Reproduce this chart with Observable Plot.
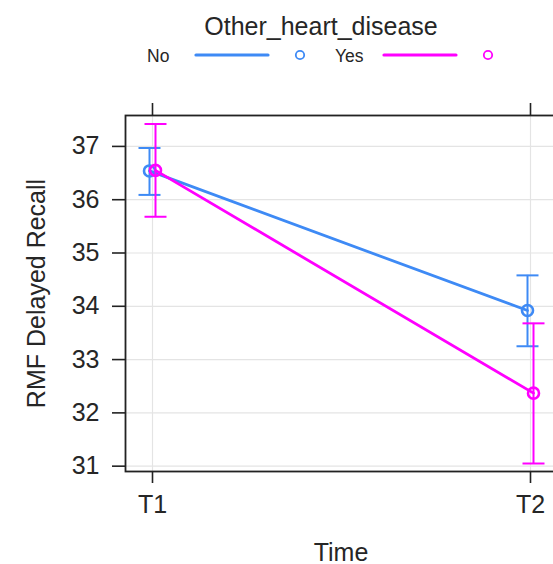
<!DOCTYPE html>
<html>
<head>
<meta charset="utf-8">
<script src="https://cdn.jsdelivr.net/npm/d3@7"></script>
<script src="https://cdn.jsdelivr.net/npm/@observablehq/plot@0.6"></script>
<style>
  html, body { margin: 0; padding: 0; background: white; }
  body { width: 553px; height: 564px; overflow: hidden; font-family: "Liberation Sans", Arial, sans-serif; }
  #header { display: block; }
</style>
</head>
<body>
<div id="chart"></div>
<script>
// ---- data ----
const timepoints = ["T1", "T2"];
const groups = ["No", "Yes"];
const colors = ["#3e8af5", "#ff00ff"];
const fitNo = [36.54, 33.92];
const lowerNo = [36.09, 33.25];
const upperNo = [36.97, 34.58];
const fitYes = [36.55, 32.37];
const lowerYes = [35.68, 31.05];
const upperYes = [37.42, 33.68];
const yTicks = [31, 32, 33, 34, 35, 36, 37];
const legendTitle = "Other_heart_disease";
const xLabel = "Time";
const yLabel = "RMF Delayed Recall";

const fits = [fitNo, fitYes], lowers = [lowerNo, lowerYes], uppers = [upperNo, upperYes];
const rowsByGroup = groups.map((g, gi) => timepoints.map((t, i) => ({
  group: g, time: t, fit: fits[gi][i], lower: lowers[gi][i], upper: uppers[gi][i]
})));

const font = "Liberation Sans, Arial, sans-serif";
const ink = "#262626";

// ---- header (title + legend) ----
const ns = "http://www.w3.org/2000/svg";
const header = document.createElementNS(ns, "svg");
header.setAttribute("id", "header");
header.setAttribute("width", 553);
header.setAttribute("height", 80);
header.style.fontFamily = font;
function el(tag, attrs, text) {
  const e = document.createElementNS(ns, tag);
  for (const k in attrs) e.setAttribute(k, attrs[k]);
  if (text != null) e.textContent = text;
  header.appendChild(e);
  return e;
}
el("text", {x: 321, y: 35, "text-anchor": "middle", "font-size": 25, fill: ink}, legendTitle);
const legendX = [147, 335];
groups.forEach((g, i) => {
  const x0 = legendX[i];
  el("text", {x: x0, y: 62, "font-size": 17.5, fill: ink}, g);
  el("line", {x1: x0 + 49, x2: x0 + 121, y1: 55, y2: 55, stroke: colors[i], "stroke-width": 3.2, "stroke-linecap": "round"});
  el("circle", {cx: x0 + 153, cy: 55, r: 4.2, fill: "none", stroke: colors[i], "stroke-width": 1.8});
});
document.getElementById("chart").appendChild(header);

// ---- plot ----
const capSymbol = { draw(context) { context.moveTo(-11, 0); context.lineTo(11, 0); } };
const dodge = [-3, 3];

const groupMarks = rowsByGroup.flatMap((rows, gi) => [
  Plot.ruleX(rows, {x: "time", y1: "lower", y2: "upper", stroke: colors[gi], strokeWidth: 2, dx: dodge[gi]}),
  Plot.dot(rows, {x: "time", y: "lower", symbol: capSymbol, stroke: colors[gi], strokeWidth: 2, dx: dodge[gi]}),
  Plot.dot(rows, {x: "time", y: "upper", symbol: capSymbol, stroke: colors[gi], strokeWidth: 2, dx: dodge[gi]}),
  Plot.line(rows, {x: "time", y: "fit", stroke: colors[gi], strokeWidth: 2.8, dx: dodge[gi]}),
  Plot.dot(rows, {x: "time", y: "fit", r: 5.5, stroke: colors[gi], strokeWidth: 2.6, fill: "white", fillOpacity: 0, dx: dodge[gi]})
]);

const chart = Plot.plot({
  width: 553,
  height: 484,
  marginTop: 35,
  marginBottom: 93,
  marginLeft: 125,
  marginRight: -3,
  style: {fontFamily: font, color: ink, background: "white", overflow: "visible"},
  x: {type: "point", domain: timepoints, padding: 0.069},
  y: {domain: [30.90, 37.58]},
  marks: [
    Plot.gridY(yTicks, {stroke: "#e4e4e4", strokeOpacity: 1, strokeWidth: 1.2}),
    Plot.gridX(timepoints, {stroke: "#e4e4e4", strokeOpacity: 1, strokeWidth: 1.2}),
    Plot.axisY(yTicks, {tickSize: 13, tickPadding: 13, fontSize: 25, tickFormat: d3.format("d"), label: null, stroke: "#222", strokeWidth: 1.6}),
    Plot.axisX(timepoints, {anchor: "bottom", tickSize: 12, tickPadding: 12, fontSize: 25, label: null, stroke: "#222", strokeWidth: 1.6}),
    Plot.axisX(timepoints, {anchor: "top", tickSize: 13, tickFormat: () => "", label: null, stroke: "#222", strokeWidth: 1.6}),
    Plot.frame({stroke: "#222", strokeWidth: 1.8}),
    ...groupMarks,
    Plot.text([xLabel], {frameAnchor: "bottom", dy: 89, lineAnchor: "bottom", fontSize: 25, fill: ink}),
    Plot.text([yLabel], {frameAnchor: "left", textAnchor: "middle", dx: -89, rotate: -90, fontSize: 25, fill: ink})
  ]
});
document.getElementById("chart").appendChild(chart);
</script>
</body>
</html>
